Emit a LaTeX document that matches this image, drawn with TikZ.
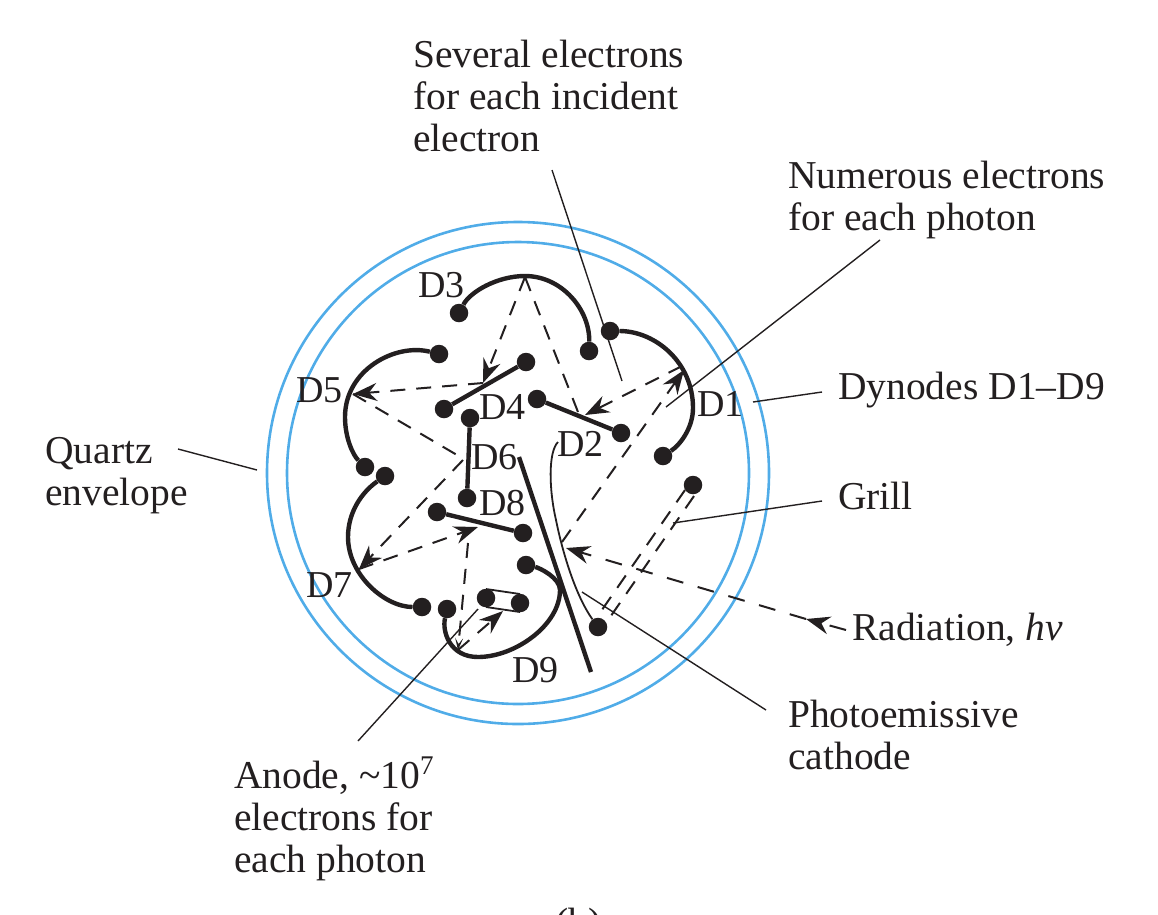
\documentclass[tikz,border=0pt]{standalone}
\usepackage{fontspec}
\setmainfont{Liberation Serif}
\usetikzlibrary{arrows.meta}
\definecolor{envblue}{RGB}{80,172,232}
\definecolor{ink}{RGB}{35,31,32}
\newcommand{\fl}{\rule{0pt}{30pt}}
\tikzset{
  x=1pt,y=-1pt,
  every node/.style={inner sep=0pt,text=ink},
  lab/.style={anchor=north west,align=left,font=\fontsize{39.5}{42}\selectfont},
  dyn/.style={anchor=base west,font=\fontsize{38}{42}\selectfont},
  envelope/.style={draw=envblue,line width=2.6pt},
  thick plate/.style={draw=ink,line width=4.4pt},
  thin lead/.style={draw=ink,line width=1.4pt},
  beam/.style={draw=ink,line width=2pt,dash pattern=on 15pt off 11pt},
  long beam/.style={draw=ink,line width=2pt,dash pattern=on 17pt off 15pt},
  tipped/.style={-{Stealth[length=24pt,width=18pt,inset=8pt]}},
  pin/.style={circle,fill=ink,minimum size=18.5pt},
}
\begin{document}
\begin{tikzpicture}
\useasboundingbox (0,0) rectangle (1158,914);
\draw[envelope] (518,473) circle (251);
\draw[envelope] (518,473) circle (231);
% pins
\node[pin] (d3a) at (459,313) {};
\node[pin] (d3b) at (589,351) {};
\node[pin] (d1a) at (610,331) {};
\node[pin] (d1b) at (663,456) {};
\node[pin] (d5a) at (439,354) {};
\node[pin] (d5b) at (365,467) {};
\node[pin] (d7a) at (385,476) {};
\node[pin] (d7b) at (422,607) {};
\node[pin] (d9a) at (447,609) {};
\node[pin] (d9b) at (526,565) {};
\node[pin] (d4a) at (526,362) {};
\node[pin] (d4b) at (444,409) {};
\node[pin] (d2a) at (537,399) {};
\node[pin] (d2b) at (621,433) {};
\node[pin] (d6a) at (470,418) {};
\node[pin] (d6b) at (467,498) {};
\node[pin] (d8a) at (437,512) {};
\node[pin] (d8b) at (523,533) {};
\node[pin] (gr) at (693,485) {};
\node[pin] (ca) at (598,627) {};
\node[pin] (ana) at (486,598) {};
\node[pin] (anb) at (520,603) {};
% beam points
\coordinate (p1) at (684,370);
\coordinate (p1s) at (682,366);
\coordinate (p2) at (585,415);
\coordinate (p2s) at (578,412);
\coordinate (p3) at (525,277);
\coordinate (p4) at (483,383);
\coordinate (p5) at (353,394);
\coordinate (p6e) at (457,455);
\coordinate (p6s) at (463,460);
\coordinate (p7) at (359,569);
\coordinate (p8) at (478,527);
\coordinate (p8s) at (468,543);
\coordinate (p9) at (458,650);
\coordinate (pa) at (503,611);
\coordinate (pc) at (562,542);
\coordinate (rt) at (566,548);
\coordinate (rm) at (806,619);
\coordinate (rs) at (846,630);
\coordinate (g1a) at (685,490);
\coordinate (g1b) at (597,617);
\coordinate (g2a) at (694,496);
\coordinate (g2b) at (606,623);
% dynodes
\draw[thick plate] (d3a) .. controls (470,292) and (497,276) .. (525,276) .. controls (562,276) and (590,310) .. (d3b);
\draw[thick plate] (d1a) .. controls (655,331) and (693,362) .. (693,408) .. controls (693,428) and (680,445) .. (d1b);
\draw[thick plate] (d5a) .. controls (395,343) and (345,370) .. (345,417) .. controls (345,438) and (353,455) .. (d5b);
\draw[thick plate] (d7a) .. controls (362,492) and (348,512) .. (348,537) .. controls (348,575) and (385,607) .. (d7b);
\draw[thick plate] (d9a) .. controls (442,632) and (450,657) .. (478,657) .. controls (515,657) and (560,625) .. (560,590) .. controls (560,578) and (540,568) .. (d9b);
\draw[thick plate] (d4a) -- (d4b);
\draw[thick plate] (d2a) -- (d2b);
\draw[thick plate] (d6a) -- (d6b);
\draw[thick plate] (d8a) -- (d8b);
\coordinate (pl1) at (519,457);
\coordinate (pl2) at (591,672);
\draw[thick plate] (pl1) -- (pl2);
% anode
\draw[thin lead,line width=1.8pt] (486,589) -- (520,594);
\draw[thin lead,line width=1.8pt] (486,607) -- (520,612);
% cathode
\coordinate (ct) at (558,442);
\draw[draw=ink,line width=1.8pt] (ct) .. controls (548,452) and (549,490) .. (556,520) .. controls (562,550) and (575,595) .. (ca);
% beams
\draw[beam,tipped] (pc) -- (p1);
\draw[beam,tipped] (p1s) -- (p2);
\draw[beam] (p2s) -- (p3);
\draw[beam,tipped] (p3) -- (p4);
\draw[beam,tipped] (p4) -- (p5);
\draw[beam] (p5) -- (p6e);
\draw[beam,tipped] (p6s) -- (p7);
\draw[beam,tipped] (p7) -- (p8);
\draw[beam,-{Stealth[length=12pt,width=8pt,inset=6pt]}] (p8s) -- (p9);
\draw[beam,tipped] (p9) -- (pa);
\draw[long beam,tipped] (rm) -- (rt);
\draw[long beam,tipped] (rs) -- (rm);
\draw[beam] (g1a) -- (g1b);
\draw[beam] (g2a) -- (g2b);
% labels
\node[lab] (t1) at (413,37) {\fl Several electrons\\for each incident\\electron};
\node[lab] (t2) at (788,158) {\fl Numerous electrons\\for each photon};
\node[lab] (t3) at (838,369) {\fl Dynodes D1--D9};
\node[lab] (t4) at (838,479) {\fl Grill};
\node[lab] (t5) at (852,610) {\fl Radiation, \textit{hν}};
\node[lab] (t6) at (788,697) {\fl Photoemissive\\cathode};
\node[lab] (t7) at (45,433) {\fl Quartz\\envelope};
\node[lab] (t8) at (234,757) {\fl Anode, \textasciitilde10\raisebox{14pt}{\fontsize{27}{27}\selectfont 7}\\electrons for\\each photon};
\node[lab] (t9) at (555,905) {\fl (b)};
\node[dyn] (l3) at (418,297) {D3};
\node[dyn] (l5) at (296,402) {D5};
\node[dyn] (l1) at (697,416) {D1};
\node[dyn] (l4) at (479,419) {D4};
\node[dyn] (l2) at (557,456) {D2};
\node[dyn] (l6) at (471,469) {D6};
\node[dyn] (l8) at (479,515) {D8};
\node[dyn] (l7) at (306,597) {D7};
\node[dyn] (l9) at (512,682) {D9};
% leaders
\coordinate (a1) at (552,170); \coordinate (a2) at (622,381);
\coordinate (b1) at (880,240); \coordinate (b2) at (666,407);
\coordinate (c1) at (822,392); \coordinate (c2) at (753,402);
\coordinate (d1) at (822,501); \coordinate (d2) at (673,523);
\coordinate (e1) at (766,710); \coordinate (e2) at (582,592);
\coordinate (f1) at (358,741); \coordinate (f2) at (478,609);
\coordinate (g1) at (178,449); \coordinate (g2) at (257,470);
\draw[thin lead] (a1) -- (a2);
\draw[thin lead] (b1) -- (b2);
\draw[thin lead] (c1) -- (c2);
\draw[thin lead] (d1) -- (d2);
\draw[thin lead] (e1) -- (e2);
\draw[thin lead] (f1) -- (f2);
\draw[thin lead] (g1) -- (g2);
\end{tikzpicture}
\end{document}
